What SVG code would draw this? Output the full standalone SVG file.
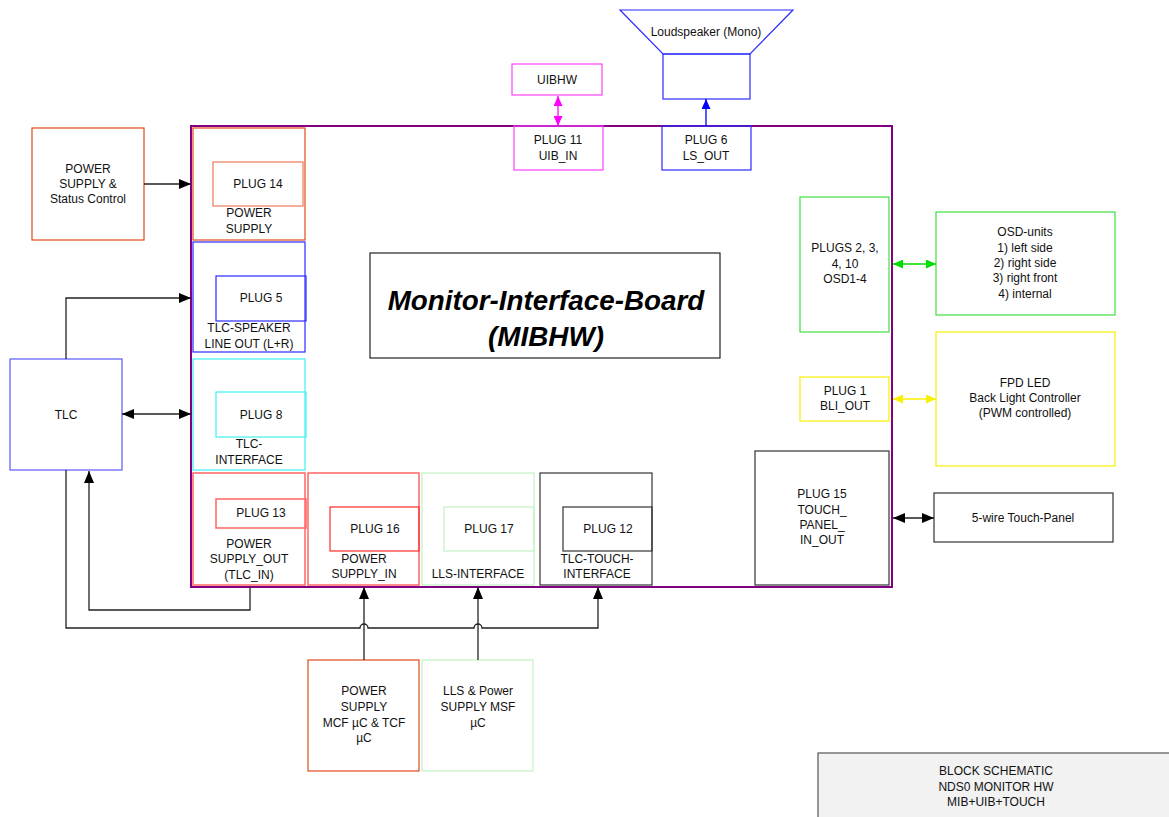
<svg xmlns="http://www.w3.org/2000/svg" width="1169" height="817" viewBox="0 0 1169 817">
  <style>
    text { font-family: "Liberation Sans", Arial, sans-serif; font-size: 12px; fill: #111; text-anchor: middle; }
    .title { font-size: 27.8px; font-weight: bold; font-style: italic; fill: #000; }
    rect, polygon { fill: none; stroke-width: 1.2; }
    .bg { fill: #fff; stroke: none; }
    .sheet { fill: #f2f2f2; stroke: #555; }
    .board { stroke: #800080; stroke-width: 2; }
    .orange { stroke: #e04a1c; }
    .orangeL { stroke: #ec7a58; }
    .red { stroke: #ff6666; stroke-width: 1.5; }
    .redD { stroke: #ff2a2a; }
    .blue { stroke: #2a2aff; }
    .blueL { stroke: #5a5aff; }
    .cyan { stroke: #40f0f0; }
    .green { stroke: #40e040; }
    .greenL { stroke: #c4f2c4; }
    .yellow { stroke: #f8f000; }
    .magenta { stroke: #ff40ff; }
    .dark { stroke: #333; }
    .wire { fill: none; stroke: #222; stroke-width: 1.3; }
  </style>
  <defs>
    <marker id="ah" markerWidth="12" markerHeight="10" refX="12" refY="5" orient="auto-start-reverse" markerUnits="userSpaceOnUse">
      <path d="M0,0 L12,5 L0,10 Z" fill="#000"/>
    </marker>
    <marker id="ahM" markerWidth="10" markerHeight="9" refX="10" refY="4.5" orient="auto-start-reverse" markerUnits="userSpaceOnUse">
      <path d="M0,0 L10,4.5 L0,9 Z" fill="#ff00ff"/>
    </marker>
    <marker id="ahB" markerWidth="10" markerHeight="9" refX="10" refY="4.5" orient="auto-start-reverse" markerUnits="userSpaceOnUse">
      <path d="M0,0 L10,4.5 L0,9 Z" fill="#0000ff"/>
    </marker>
    <marker id="ahG" markerWidth="10" markerHeight="9" refX="10" refY="4.5" orient="auto-start-reverse" markerUnits="userSpaceOnUse">
      <path d="M0,0 L10,4.5 L0,9 Z" fill="#00dd00"/>
    </marker>
    <marker id="ahY" markerWidth="10" markerHeight="9" refX="10" refY="4.5" orient="auto-start-reverse" markerUnits="userSpaceOnUse">
      <path d="M0,0 L10,4.5 L0,9 Z" fill="#f8f000"/>
    </marker>
  </defs>

  <rect class="bg" width="1169" height="817"/>

  <!-- main board outline -->
  <g id="board">
    <rect class="board" x="191" y="126" width="701" height="461"/>
    <rect x="370" y="253" width="350" height="105" stroke="#222"/>
    <text class="title" x="546" y="310">Monitor-Interface-Board</text>
    <text class="title" x="546" y="346">(MIBHW)</text>
  </g>

  <!-- left column sections -->
  <g id="sec-power-supply">
    <rect class="orange" x="193" y="128" width="112" height="112"/>
    <rect class="orangeL" x="213" y="162" width="90" height="44"/>
    <text x="258" y="188">PLUG 14</text>
    <text x="249" y="217">POWER</text>
    <text x="249" y="233">SUPPLY</text>
  </g>
  <g id="sec-tlc-speaker">
    <rect class="blue" x="193" y="242" width="112" height="110"/>
    <rect class="blue" x="216" y="276" width="90" height="45"/>
    <text x="261" y="302">PLUG 5</text>
    <text x="249" y="332">TLC-SPEAKER</text>
    <text x="249" y="348">LINE OUT (L+R)</text>
  </g>
  <g id="sec-tlc-interface">
    <rect class="cyan" x="193" y="359" width="112" height="111"/>
    <rect class="cyan" x="216" y="392" width="90" height="45"/>
    <text x="261" y="419">PLUG 8</text>
    <text x="249" y="448">TLC-</text>
    <text x="249" y="464">INTERFACE</text>
  </g>
  <g id="sec-power-out">
    <rect class="red" x="193" y="473" width="112" height="112"/>
    <rect class="red" x="216" y="499" width="90" height="29"/>
    <text x="261" y="517">PLUG 13</text>
    <text x="249" y="548">POWER</text>
    <text x="249" y="563">SUPPLY_OUT</text>
    <text x="249" y="579">(TLC_IN)</text>
  </g>

  <!-- bottom row sections -->
  <g id="sec-power-in">
    <rect class="red" x="308" y="473" width="111" height="112"/>
    <rect class="redD" x="330" y="507" width="89" height="44"/>
    <text x="375" y="533">PLUG 16</text>
    <text x="364" y="563">POWER</text>
    <text x="364" y="578">SUPPLY_IN</text>
  </g>
  <g id="sec-lls">
    <rect class="greenL" x="422" y="473" width="112" height="112"/>
    <rect class="greenL" x="444" y="507" width="90" height="44"/>
    <text x="489" y="533">PLUG 17</text>
    <text x="478" y="578">LLS-INTERFACE</text>
  </g>
  <g id="sec-tlc-touch">
    <rect class="dark" x="540" y="473" width="112" height="112"/>
    <rect class="dark" x="563" y="507" width="89" height="44"/>
    <text x="608" y="533">PLUG 12</text>
    <text x="597" y="563">TLC-TOUCH-</text>
    <text x="597" y="578">INTERFACE</text>
  </g>

  <!-- right side plugs -->
  <g id="plug15">
    <rect class="dark" x="755" y="451" width="134" height="134"/>
    <text x="822" y="498">PLUG 15</text>
    <text x="822" y="514">TOUCH_</text>
    <text x="822" y="529">PANEL_</text>
    <text x="822" y="544">IN_OUT</text>
  </g>
  <g id="plugs-osd">
    <rect class="green" x="800" y="197" width="89" height="135"/>
    <text x="845" y="252">PLUGS 2, 3,</text>
    <text x="845" y="268">4, 10</text>
    <text x="845" y="283">OSD1-4</text>
  </g>
  <g id="plug1">
    <rect class="yellow" x="800" y="377" width="89" height="44"/>
    <text x="845" y="395">PLUG 1</text>
    <text x="845" y="410">BLI_OUT</text>
  </g>

  <!-- top plugs -->
  <g id="plug11">
    <rect class="magenta" x="514" y="126" width="89" height="44"/>
    <text x="558" y="144">PLUG 11</text>
    <text x="558" y="160">UIB_IN</text>
  </g>
  <g id="plug6">
    <rect class="blue" x="662" y="126" width="89" height="44"/>
    <text x="706" y="144">PLUG 6</text>
    <text x="706" y="160">LS_OUT</text>
  </g>

  <!-- external units -->
  <g id="uibhw">
    <rect class="magenta" x="512" y="64" width="90" height="31"/>
    <text x="557" y="84">UIBHW</text>
  </g>
  <g id="loudspeaker">
    <polygon class="blue" points="620,10 793,10 750,54 663,54"/>
    <rect class="blue" x="663" y="54" width="87" height="45"/>
    <text x="706" y="36">Loudspeaker (Mono)</text>
  </g>
  <g id="ps-status">
    <rect class="orange" x="32" y="128" width="112" height="112"/>
    <text x="88" y="173">POWER</text>
    <text x="88" y="188">SUPPLY &amp;</text>
    <text x="88" y="203">Status Control</text>
  </g>
  <g id="tlc">
    <rect class="blueL" x="10" y="359" width="112" height="111"/>
    <text x="66" y="419">TLC</text>
  </g>
  <g id="osd-units">
    <rect class="green" x="936" y="212" width="179" height="103"/>
    <text x="1025" y="236">OSD-units</text>
    <text x="1025" y="252">1) left side</text>
    <text x="1025" y="267">2) right side</text>
    <text x="1025" y="282">3) right front</text>
    <text x="1025" y="298">4) internal</text>
  </g>
  <g id="fpd-led">
    <rect class="yellow" x="936" y="332" width="179" height="134"/>
    <text x="1025" y="387">FPD LED</text>
    <text x="1025" y="402">Back Light Controller</text>
    <text x="1025" y="417">(PWM controlled)</text>
  </g>
  <g id="touch-panel">
    <rect class="dark" x="934" y="493" width="179" height="49"/>
    <text x="1023" y="522">5-wire Touch-Panel</text>
  </g>
  <g id="ps-mcf">
    <rect class="orange" x="308" y="660" width="111" height="111"/>
    <text x="364" y="695">POWER</text>
    <text x="364" y="711">SUPPLY</text>
    <text x="364" y="727">MCF µC &amp; TCF</text>
    <text x="364" y="742">µC</text>
  </g>
  <g id="lls-power">
    <rect class="greenL" x="422" y="660" width="111" height="111"/>
    <text x="478" y="695">LLS &amp; Power</text>
    <text x="478" y="711">SUPPLY MSF</text>
    <text x="478" y="727">µC</text>
  </g>
  <g id="title-block">
    <rect class="sheet" x="818" y="753" width="360" height="70"/>
    <text x="996" y="775">BLOCK SCHEMATIC</text>
    <text x="996" y="791">NDS0 MONITOR HW</text>
    <text x="996" y="806">MIB+UIB+TOUCH</text>
  </g>

  <!-- connectors -->
  <g id="connectors">
    <line class="wire" x1="144" y1="184" x2="191" y2="184" marker-end="url(#ah)"/>
    <polyline class="wire" points="66,359 66,298 191,298" marker-end="url(#ah)"/>
    <line class="wire" x1="122" y1="414" x2="191" y2="414" marker-start="url(#ah)" marker-end="url(#ah)"/>
    <polyline class="wire" points="250,587 250,610 89,610 89,471" marker-end="url(#ah)"/>
    <path class="wire" d="M66,470 V628 H360 A4,4 0 0 1 368,628 H474 A4,4 0 0 1 482,628 H598 V587" marker-end="url(#ah)"/>
    <line class="wire" x1="364" y1="660" x2="364" y2="587" marker-end="url(#ah)"/>
    <line class="wire" x1="478" y1="660" x2="478" y2="587" marker-end="url(#ah)"/>
    <line class="wire" x1="893" y1="518" x2="934" y2="518" marker-start="url(#ah)" marker-end="url(#ah)"/>
    <line x1="558" y1="96" x2="558" y2="126" stroke="#ff00ff" stroke-width="1.3" marker-start="url(#ahM)" marker-end="url(#ahM)"/>
    <line x1="706" y1="126" x2="706" y2="99" stroke="#0000ff" stroke-width="1.3" marker-end="url(#ahB)"/>
    <line x1="893" y1="264" x2="936" y2="264" stroke="#00dd00" stroke-width="1.3" marker-start="url(#ahG)" marker-end="url(#ahG)"/>
    <line x1="893" y1="399" x2="936" y2="399" stroke="#f8f000" stroke-width="1.3" marker-start="url(#ahY)" marker-end="url(#ahY)"/>
  </g>
</svg>
